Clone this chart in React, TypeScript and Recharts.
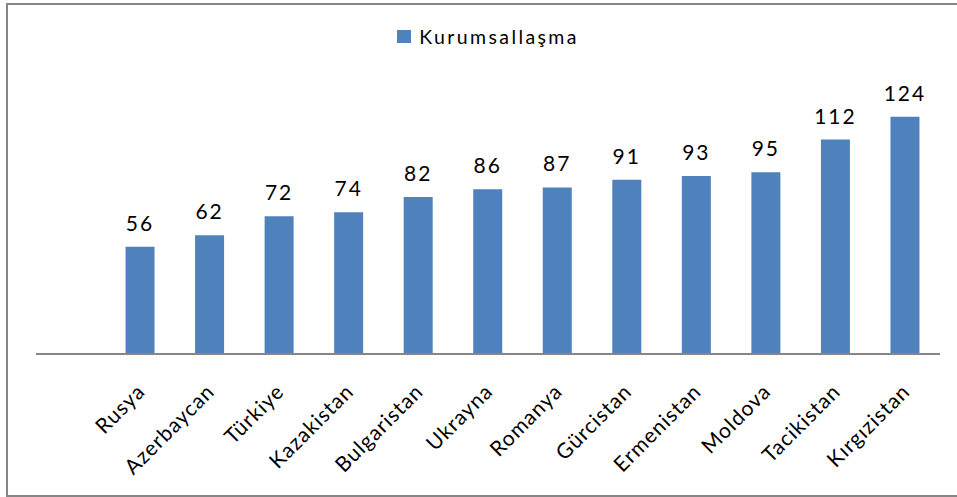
import React from "react";
import { BarChart, Bar, XAxis, YAxis, Legend, LabelList } from "recharts";

// first slot is empty in the original sheet
const countries = [
  "",
  "Rusya",
  "Azerbaycan",
  "Türkiye",
  "Kazakistan",
  "Bulgaristan",
  "Ukrayna",
  "Romanya",
  "Gürcistan",
  "Ermenistan",
  "Moldova",
  "Tacikistan",
  "Kırgızistan",
];
const kurumsallasma = [null, 56, 62, 72, 74, 82, 86, 87, 91, 93, 95, 112, 124];

const FONT = "Lato, 'Open Sans', sans-serif";
const BLUE = "#4F81BD";

const data = countries.map((name, i) => ({ name, value: kurumsallasma[i] }));

function AngledTick(props: any) {
  const { x, y, payload } = props;
  return (
    <g transform={`translate(${x + 6},${y + 31})`}>
      <text
        transform="rotate(-45)"
        textAnchor="end"
        fontSize={21}
        letterSpacing={1}
        fontFamily={FONT}
        fill="#000"
      >
        {payload.value}
      </text>
    </g>
  );
}

function LegendContent() {
  return (
    <div
      style={{
        display: "flex",
        alignItems: "center",
        justifyContent: "center",
        fontFamily: FONT,
        fontSize: 19.5,
        letterSpacing: 2.4,
        color: "#000",
      }}
    >
      <span style={{ width: 14, height: 13, background: BLUE, marginRight: 8 }} />
      Kurumsallaşma
    </div>
  );
}

export default function App() {
  return (
    <div style={{ position: "absolute", left: 0, top: 0, width: 957, height: 497, background: "#fff" }}>
      <div
        style={{
          position: "absolute",
          left: 6,
          top: 3,
          width: 960,
          height: 494,
          boxSizing: "border-box",
          border: "2px solid #868686",
        }}
      />
      <div style={{ position: "absolute", left: 0, top: 0 }}>
        <BarChart
          width={957}
          height={497}
          data={data}
          margin={{ top: 63, right: 17, left: 36, bottom: 43 }}
          barSize={29}
        >
          <Legend
            verticalAlign="top"
            align="center"
            content={<LegendContent />}
            wrapperStyle={{ top: 25 }}
          />
          <XAxis
            dataKey="name"
            interval={0}
            height={100}
            tickLine={false}
            axisLine={{ stroke: "#868686", strokeWidth: 2 }}
            tick={<AngledTick />}
          />
          <YAxis hide domain={[0, 140]} />
          <Bar dataKey="value" fill={BLUE} isAnimationActive={false}>
            <LabelList
              dataKey="value"
              position="top"
              offset={16}
              style={{ fontSize: 21, fontFamily: FONT, fill: "#000", letterSpacing: 2 }}
            />
          </Bar>
        </BarChart>
      </div>
    </div>
  );
}
